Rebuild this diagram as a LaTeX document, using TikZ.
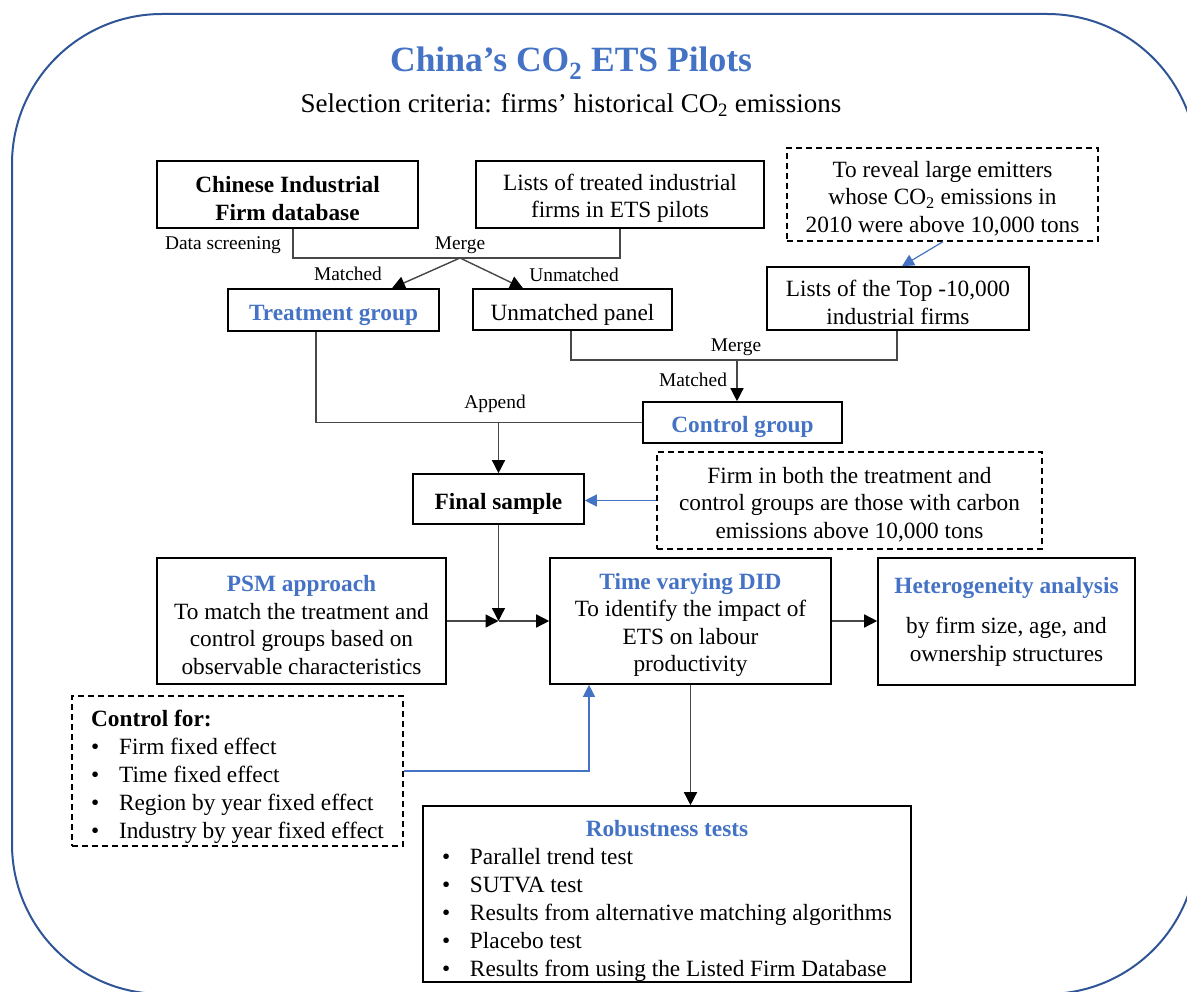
\documentclass[tikz,border=0pt]{standalone}
\usepackage{fontspec}
\setmainfont{Liberation Serif}
\usetikzlibrary{arrows.meta,calc}
\definecolor{tblue}{HTML}{4472C4}
\definecolor{oblue}{HTML}{2F5597}
\newcommand{\bodyf}{\fontsize{23.3}{27.5}\selectfont}
\newcommand{\labf}{\fontsize{19.4}{22}\selectfont}
\newcommand{\titf}{\fontsize{35.5}{40}\selectfont}
\newcommand{\subf}{\fontsize{27}{30}\selectfont}
\newcommand{\bul}{\makebox[28pt][l]{\textbullet}}
\newcommand{\btitle}[1]{\textcolor{tblue}{\bfseries #1}}
\newcommand{\fs}[1][24pt]{\rule{0pt}{#1}}
\tikzset{
  box/.style={draw=black, line width=1.6pt, align=center, inner sep=0pt, font=\bodyf,
    execute at begin node={\rule{0pt}{26pt}}},
  dbox/.style={box, dash pattern=on 6pt off 4pt, line width=1.4pt},
  conn/.style={draw=black!72, line width=1.4pt},
  arr/.style={conn, -{Triangle[length=13pt,width=13pt,color=black]}},
  barr/.style={draw=tblue, line width=1.2pt, -{Triangle[length=12pt,width=12pt]}},
  lab/.style={font=\labf, inner sep=0pt},
}
\begin{document}
\begin{tikzpicture}[x=1pt,y=-1pt]
\useasboundingbox (0,0) rectangle (1187,992);
\begin{scope}
\clip (0,0) rectangle (1187,992);
\draw[oblue, line width=2pt, rounded corners=150pt] (12,14) rectangle (1197,994);
\end{scope}

% titles
\node[font=\titf\bfseries, text=tblue, inner sep=0pt] (title) at (571,63) {China’s CO\textsubscript{2} ETS Pilots};
\node[font=\subf, inner sep=0pt] (subtitle) at (571,105) {Selection criteria: firms’ historical CO\textsubscript{2} emissions};

% boxes
\node[box, minimum width=261pt, minimum height=67pt, font=\bodyf\bfseries] (chin) at (287.5,194.5) {\fs Chinese Industrial\\Firm database};
\node[box, minimum width=288pt, minimum height=67pt] (lists) at (620,194.5) {\fs Lists of treated industrial\\firms in ETS pilots};
\node[dbox, minimum width=311pt, minimum height=93pt] (reveal) at (942.5,194.5) {\fs To reveal large emitters\\whose CO\textsubscript{2} emissions in\\2010 were above 10,000 tons};
\node[box, minimum width=211pt, minimum height=42pt] (treat) at (333.5,310) {\btitle{Treatment group}};
\node[box, minimum width=199pt, minimum height=41pt] (unm) at (572.5,309.5) {Unmatched panel};
\node[box, minimum width=262pt, minimum height=63pt] (top) at (898,298.5) {\fs Lists of the Top -10,000\\industrial firms};
\node[box, minimum width=199pt, minimum height=41pt] (ctrl) at (742.5,422.5) {\btitle{Control group}};
\node[box, minimum width=171pt, minimum height=50pt, font=\bodyf\bfseries] (final) at (498.5,499) {Final sample};
\node[dbox, minimum width=385pt, minimum height=97pt] (both) at (849.5,500.5) {\fs Firm in both the treatment and\\control groups are those with carbon\\emissions above 10,000 tons};
\node[box, minimum width=289pt, minimum height=126pt] (psm) at (301.5,621) {\fs\btitle{PSM approach}\\To match the treatment and\\control groups based on\\observable characteristics};
\node[box, minimum width=281pt, minimum height=126pt] (did) at (690.5,621) {\fs\btitle{Time varying DID}\\To identify the impact of\\ETS on labour\\productivity};
\node[box, minimum width=257pt, minimum height=127pt] (het) at (1006.5,621.5) {\btitle{Heterogeneity analysis}\\[13pt]by firm size, age, and\\ownership structures};
\node[dbox, minimum width=331pt, minimum height=150pt, align=left, font=\fontsize{23.3}{28}\selectfont] (cfor) at (237.5,771) {\fs[28pt]\textbf{Control for:}\\\bul Firm fixed effect\\\bul Time fixed effect\\\bul Region by year fixed effect\\\bul Industry by year fixed effect};
\node[box, minimum width=488pt, minimum height=176pt, align=left, font=\fontsize{23.3}{28}\selectfont] (rob) at (667,894) {\fs[31pt]\makebox[450pt]{\btitle{Robustness tests}}\\\bul Parallel trend test\\\bul SUTVA test\\\bul Results from alternative matching algorithms\\\bul Placebo test\\\bul Results from using the Listed Firm Database};

% labels
\node[lab] (ds) at (223,245) {Data screening};
\node[lab] (mg1) at (460,245) {Merge};
\node[lab] (mt1) at (348,274) {Matched};
\node[lab] (um) at (574,275) {Unmatched};
\node[lab] (mg2) at (736,347) {Merge};
\node[lab] (mt2) at (693,380) {Matched};
\node[lab] (ap) at (495,404) {Append};

% connectors
\coordinate (m1) at (460,258);
\draw[conn] ([xshift=5.5pt]chin.south) |- (m1) -| (lists.south);
\draw[arr] (m1) -- ([xshift=58.5pt]treat.north);
\draw[arr] (m1) -- ([xshift=-49.5pt]unm.north);

\coordinate (m2) at (737,360);
\draw[conn] ([xshift=-1.5pt]unm.south) |- (m2) -| ([xshift=-1pt]top.south);
\draw[arr] (m2) -- ([xshift=-5.5pt]ctrl.north);

\draw[conn] ([xshift=-17.5pt]treat.south) |- (ctrl.west);
\coordinate (m3) at (final.north |- ctrl.west);
\draw[arr] (m3) -- (final.north);

\coordinate (j) at (final.south |- psm.east);
\draw[arr] (final.south) -- (j);
\draw[arr] (psm.east) -- (j);
\draw[arr] (j) -- (did.west);
\draw[arr] (did.east) -- (did.east -| het.west);
\draw[arr] (did.south) -- (did.south |- rob.north);

\draw[barr] ([xshift=0.5pt]reveal.south) -- ([xshift=4pt]top.north);
\draw[barr] (both.west) -- (both.west -| final.east);
\draw[barr] (cfor.east) -| ([xshift=-101.5pt]did.south);
\end{tikzpicture}
\end{document}
